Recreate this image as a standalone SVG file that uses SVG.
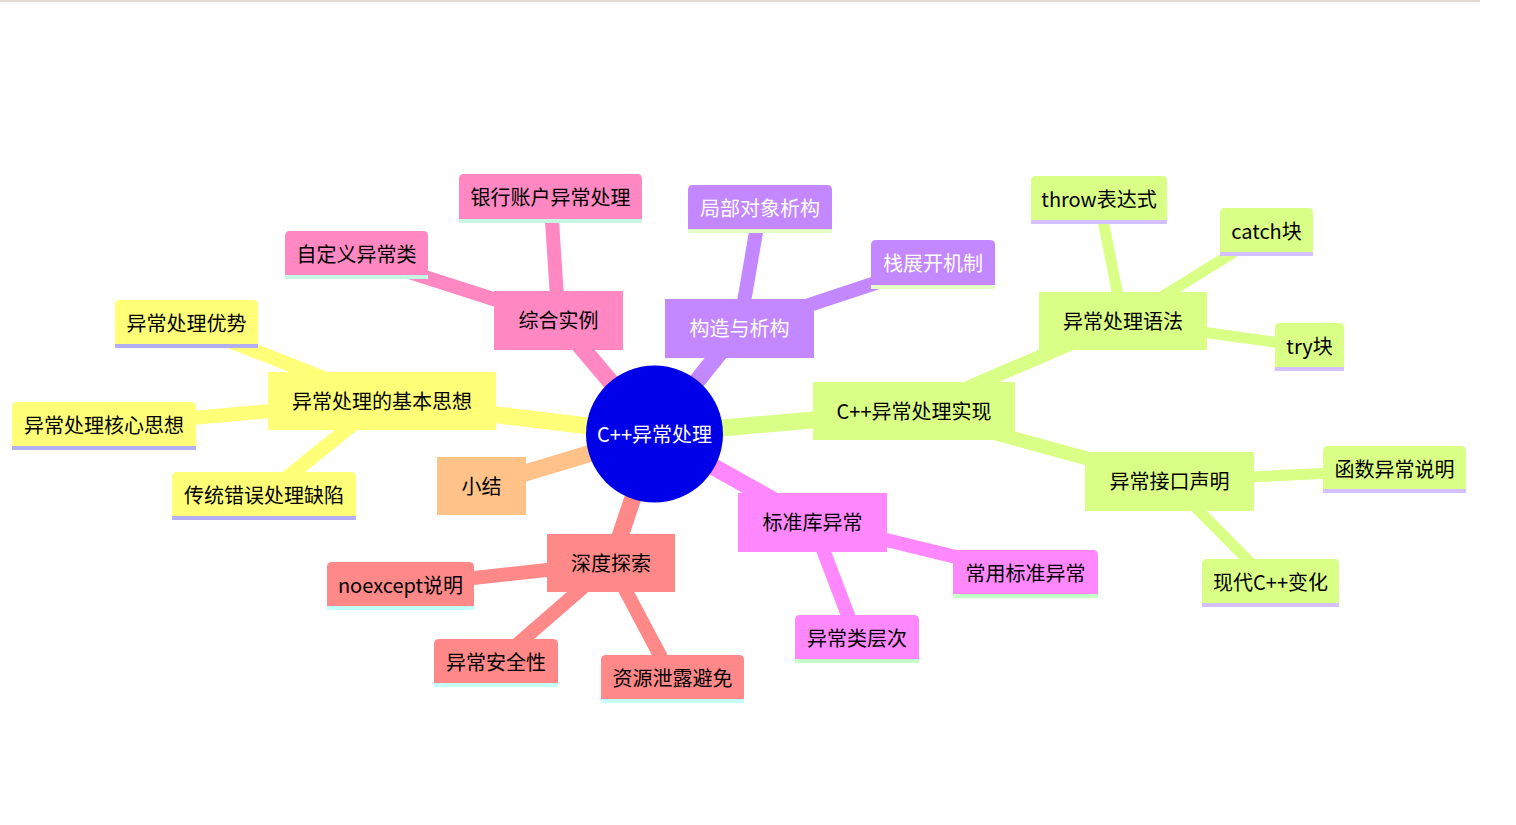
<svg xmlns="http://www.w3.org/2000/svg" width="1516" height="825" viewBox="0 0 1516 825">
<style>
text{font-family:"Noto Sans CJK SC","Noto Sans",sans-serif;font-size:20px;text-anchor:middle;dominant-baseline:central;fill:#000}
text.w{fill:#fff}
.e{fill:none;stroke-linecap:butt}
.d0{stroke-width:17}.d1{stroke-width:14}.d2{stroke-width:11}
.s0{stroke:#ff88c2}.s1{stroke:#c388ff}.s2{stroke:#d9ff86}.s3{stroke:#ffff78}.s4{stroke:#ffc288}.s5{stroke:#ff8888}.s6{stroke:#ff88ff}
.f0{fill:#ff88c2}.f1{fill:#c388ff}.f2{fill:#d9ff86}.f3{fill:#ffff78}.f4{fill:#ffc288}.f5{fill:#ff8888}.f6{fill:#ff88ff}
.b0{fill:#c6f7e2}.b1{fill:#e4ffc8}.b2{fill:#d4bfff}.b3{fill:#b0b0f2}.b5{fill:#c4ffff}.b6{fill:#c4ffc8}
</style>
<rect x="0" y="0" width="1480" height="2" fill="#e2d9cf"/>
<g id="connectors">
<line class="e d0 s0" x1="654.5" y1="434" x2="558.5" y2="320"/>
<line class="e d0 s1" x1="654.5" y1="434" x2="739.5" y2="328"/>
<line class="e d0 s2" x1="654.5" y1="434" x2="914" y2="411"/>
<line class="e d0 s3" x1="654.5" y1="434" x2="382" y2="401"/>
<line class="e d0 s4" x1="654.5" y1="434" x2="481.5" y2="486"/>
<line class="e d0 s5" x1="654.5" y1="434" x2="611" y2="563"/>
<line class="e d0 s6" x1="654.5" y1="434" x2="812.5" y2="522"/>
<line class="e d1 s0" x1="558.5" y1="320" x2="550.5" y2="198"/>
<line class="e d1 s0" x1="558.5" y1="320" x2="356.5" y2="255"/>
<line class="e d1 s1" x1="739.5" y1="328" x2="760" y2="209"/>
<line class="e d1 s1" x1="739.5" y1="328" x2="933" y2="264"/>
<line class="e d1 s2" x1="914" y1="411" x2="1123" y2="321"/>
<line class="e d1 s2" x1="914" y1="411" x2="1169.5" y2="481"/>
<line class="e d1 s3" x1="382" y1="401" x2="186.5" y2="324"/>
<line class="e d1 s3" x1="382" y1="401" x2="104" y2="426"/>
<line class="e d1 s3" x1="382" y1="401" x2="264" y2="496"/>
<line class="e d1 s5" x1="611" y1="563" x2="400.5" y2="586"/>
<line class="e d1 s5" x1="611" y1="563" x2="496" y2="663"/>
<line class="e d1 s5" x1="611" y1="563" x2="672.5" y2="679"/>
<line class="e d1 s6" x1="812.5" y1="522" x2="1025.5" y2="574"/>
<line class="e d1 s6" x1="812.5" y1="522" x2="857" y2="639"/>
<line class="e d2 s2" x1="1123" y1="321" x2="1099" y2="200"/>
<line class="e d2 s2" x1="1123" y1="321" x2="1266.5" y2="232"/>
<line class="e d2 s2" x1="1123" y1="321" x2="1309.5" y2="347"/>
<line class="e d2 s2" x1="1169.5" y1="481" x2="1394.5" y2="470"/>
<line class="e d2 s2" x1="1169.5" y1="481" x2="1270.5" y2="583"/>
</g>
<g id="root"><circle cx="654.5" cy="434" r="68.5" fill="#0000e8"/><text class="w" x="654.5" y="433.5">C++异常处理</text></g>
<g id="n-zonghe"><rect class="f0" x="494" y="291" width="129" height="59"/><text x="558.5" y="319.5">综合实例</text></g>
<g id="n-gouzao"><rect class="f1" x="665" y="299" width="149" height="59"/><text class="w" x="739.5" y="327.5">构造与析构</text></g>
<g id="n-shixian"><rect class="f2" x="813" y="382" width="202" height="58"/><text x="914" y="410.5">C++异常处理实现</text></g>
<g id="n-jiben"><rect class="f3" x="268" y="372" width="228" height="58"/><text x="382" y="400.5">异常处理的基本思想</text></g>
<g id="n-xiaojie"><rect class="f4" x="437" y="457" width="89" height="58"/><text x="481.5" y="485.5">小结</text></g>
<g id="n-shendu"><rect class="f5" x="547" y="534" width="128" height="58"/><text x="611" y="562.5">深度探索</text></g>
<g id="n-biaozhun"><rect class="f6" x="738" y="493" width="149" height="59"/><text x="812.5" y="521.5">标准库异常</text></g>
<g id="n-yufa"><rect class="f2" x="1039" y="292" width="168" height="58"/><text x="1123" y="320.5">异常处理语法</text></g>
<g id="n-jiekou"><rect class="f2" x="1085" y="452" width="169" height="59"/><text x="1169.5" y="480.5">异常接口声明</text></g>

<g id="n-yinhang"><path class="f0" d="M459,223V179Q459,174 464,174H637Q642,174 642,179V223Z"/><rect class="b0" x="459" y="219" width="183" height="4"/><text x="550.5" y="196.5">银行账户异常处理</text></g>
<g id="n-zidingyi"><path class="f0" d="M285,279V236Q285,231 290,231H423Q428,231 428,236V279Z"/><rect class="b0" x="285" y="275" width="143" height="4"/><text x="356.5" y="253.5">自定义异常类</text></g>
<g id="n-jubu"><path class="f1" d="M688,233V190Q688,185 693,185H827Q832,185 832,190V233Z"/><rect class="b1" x="688" y="229" width="144" height="4"/><text class="w" x="760" y="207.5">局部对象析构</text></g>
<g id="n-zhan"><path class="f1" d="M871,289V245Q871,240 876,240H990Q995,240 995,245V289Z"/><rect class="b1" x="871" y="285" width="124" height="4"/><text class="w" x="933" y="262.5">栈展开机制</text></g>
<g id="n-throw"><path class="f2" d="M1031,224V181Q1031,176 1036,176H1162Q1167,176 1167,181V224Z"/><rect class="b2" x="1031" y="220" width="136" height="4"/><text x="1099" y="198.5">throw表达式</text></g>
<g id="n-catch"><path class="f2" d="M1220,256V213Q1220,208 1225,208H1308Q1313,208 1313,213V256Z"/><rect class="b2" x="1220" y="252" width="93" height="4"/><text x="1266.5" y="230.5">catch块</text></g>
<g id="n-try"><path class="f2" d="M1275,371V328Q1275,323 1280,323H1339Q1344,323 1344,328V371Z"/><rect class="b2" x="1275" y="367" width="69" height="4"/><text x="1309.5" y="345.5">try块</text></g>
<g id="n-hanshu"><path class="f2" d="M1323,493V451Q1323,446 1328,446H1461Q1466,446 1466,451V493Z"/><rect class="b2" x="1323" y="489" width="143" height="4"/><text x="1394.5" y="468.5">函数异常说明</text></g>
<g id="n-xiandai"><path class="f2" d="M1202,607V564Q1202,559 1207,559H1334Q1339,559 1339,564V607Z"/><rect class="b2" x="1202" y="603" width="137" height="4"/><text x="1270.5" y="581.5">现代C++变化</text></g>
<g id="n-youshi"><path class="f3" d="M115,348V305Q115,300 120,300H253Q258,300 258,305V348Z"/><rect class="b3" x="115" y="344" width="143" height="4"/><text x="186.5" y="322.5">异常处理优势</text></g>
<g id="n-hexin"><path class="f3" d="M12,450V407Q12,402 17,402H191Q196,402 196,407V450Z"/><rect class="b3" x="12" y="446" width="184" height="4"/><text x="104" y="424.5">异常处理核心思想</text></g>
<g id="n-chuantong"><path class="f3" d="M172,520V477Q172,472 177,472H351Q356,472 356,477V520Z"/><rect class="b3" x="172" y="516" width="184" height="4"/><text x="264" y="494.5">传统错误处理缺陷</text></g>
<g id="n-noexcept"><path class="f5" d="M327,610V567Q327,562 332,562H469Q474,562 474,567V610Z"/><rect class="b5" x="327" y="606" width="147" height="4"/><text x="400.5" y="584.5">noexcept说明</text></g>
<g id="n-anquan"><path class="f5" d="M434,687V644Q434,639 439,639H553Q558,639 558,644V687Z"/><rect class="b5" x="434" y="683" width="124" height="4"/><text x="496" y="661.5">异常安全性</text></g>
<g id="n-ziyuan"><path class="f5" d="M601,703V660Q601,655 606,655H739Q744,655 744,660V703Z"/><rect class="b5" x="601" y="699" width="143" height="4"/><text x="672.5" y="677.5">资源泄露避免</text></g>
<g id="n-changyong"><path class="f6" d="M953,598V555Q953,550 958,550H1093Q1098,550 1098,555V598Z"/><rect class="b6" x="953" y="594" width="145" height="4"/><text x="1025.5" y="572.5">常用标准异常</text></g>
<g id="n-cengci"><path class="f6" d="M795,663V620Q795,615 800,615H914Q919,615 919,620V663Z"/><rect class="b6" x="795" y="659" width="124" height="4"/><text x="857" y="637.5">异常类层次</text></g>
</svg>
